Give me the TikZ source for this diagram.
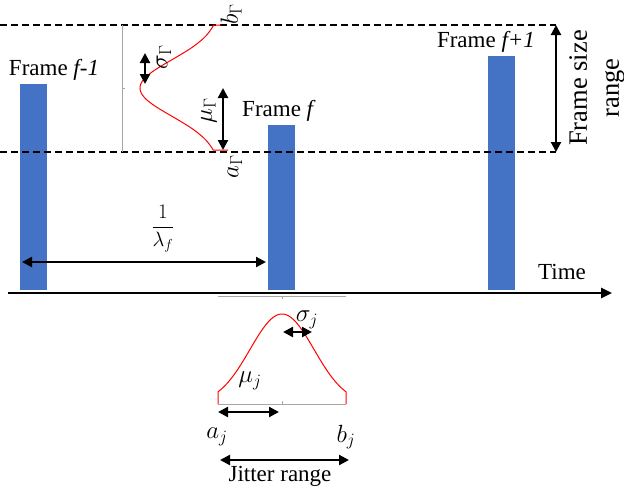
\documentclass[tikz,border=0pt]{standalone}
\usepackage{fontspec}
\setmainfont{Liberation Serif}
\usetikzlibrary{arrows.meta,positioning}
\definecolor{barblue}{HTML}{4472C4}
\definecolor{guidegray}{HTML}{A6A6A6}

\begin{document}
\begin{tikzpicture}[
  x=1pt, y=-1pt,
  font=\fontsize{23}{28}\selectfont,
  every node/.style={align=center, inner sep=0pt},
  %% ─── styles ──────────────────────────────────────────────────────
  framebar/.style={fill=barblue, draw=none, minimum width=27pt, anchor=south, inner sep=0pt},
  lbl/.style={font=\fontsize{23}{28}\selectfont, anchor=base},
  mlbl/.style={font=\fontsize{24}{28}\selectfont},
  dbl/.style={{Triangle[length=10pt,width=10pt]}-{Triangle[length=10pt,width=10pt]}, line width=2.2pt},
  limit/.style={dash pattern=on 7pt off 4pt, line width=2pt},
  timeaxis/.style={-{Triangle[length=11pt,width=10pt]}, line width=2.5pt},
  guide/.style={draw=guidegray, line width=0.8pt},
  pdf/.style={draw=red, line width=1pt}
]
  \useasboundingbox (0,0) rectangle (624,488);

  %% ─── 1. frames on the time axis ──────────────────────────────────
  \node[framebar, minimum height=206pt] (fprev) at (33.5,290) {};
  \node[framebar, minimum height=165pt] (fcur)  at (281.5,290) {};
  \node[framebar, minimum height=234pt] (fnext) at (501,290) {};

  \node[lbl] (lprev) at (54,75)  {Frame \textit{f-1}};
  \node[lbl] (lcur)  at (279,116) {Frame \textit{f}};
  \node[lbl] (lnext) at (486,47) {Frame \textit{f+1}};

  \coordinate (t0) at (8,293);
  \coordinate (t1) at (612,293);
  \draw[timeaxis] (t0) -- (t1);
  \node[lbl] (time) at (562,279) {Time};

  %% ─── 2. frame size range ─────────────────────────────────────────
  \coordinate (bL) at (0,25);
  \coordinate (bR) at (556,25);
  \coordinate (aL) at (0,152);
  \coordinate (aR) at (556,152);
  \draw[limit] (bL) -- (bR);
  \draw[limit] (aL) -- (aR);
  \draw[dbl] (bR) -- (aR);
  \node[rotate=90, font=\fontsize{26.5}{32}\selectfont] (fsr) at (597,88) {Frame size\\range};

  % frame size distribution
  \draw[guide] (122,25) -- (122,152) (122,88) -- (125,88);
  \draw[pdf] (221,25) -- plot[domain=25:150, samples=90, variable=\t]
    ({220-80*exp(-((\t-88)/28)*((\t-88)/28)/2)}, \t) -- (228,150);

  \coordinate (sgT) at (145,53);
  \coordinate (sgB) at (145,84);
  \draw[dbl] (sgT) -- (sgB);
  \coordinate (muT) at (223,88);
  \coordinate (muB) at (223,150);
  \draw[dbl] (muT) -- (muB);

  \node[mlbl, rotate=90] (sgG) at (164,57)  {$\sigma_\Gamma$};
  \node[mlbl, rotate=90] (muG) at (209,111) {$\mu_\Gamma$};
  \node[mlbl, rotate=90] (bG)  at (231,14)  {$b_\Gamma$};
  \node[mlbl, rotate=90] (aG)  at (235,167) {$a_\Gamma$};

  %% ─── 3. inter-frame time ─────────────────────────────────────────
  \coordinate (lamL) at (22,262);
  \coordinate (lamR) at (266,262);
  \draw[dbl] (lamL) -- (lamR);
  \node[font=\fontsize{21}{25}\selectfont] (rate) at (163,229) {$\displaystyle\frac{1}{\lambda_f}$};

  %% ─── 4. jitter distribution ──────────────────────────────────────
  \draw[guide] (218,296) -- (346,296) (282,296) -- (282,299);
  \draw[guide] (218,404) -- (346,404) (282,404) -- (282,401);
  \draw[pdf] (218,404) -- plot[domain=218:346, samples=90]
    (\x, {404-90*exp(-((\x-282)/32)*((\x-282)/32)/2)}) -- (346,404);

  \coordinate (sjL) at (283,332);
  \coordinate (sjR) at (312,332);
  \draw[dbl] (sjL) -- (sjR);
  \coordinate (mjL) at (218,412);
  \coordinate (mjR) at (279,412);
  \draw[dbl] (mjL) -- (mjR);
  \coordinate (jrL) at (220,460);
  \coordinate (jrR) at (349,460);
  \draw[dbl] (jrL) -- (jrR);

  \node[mlbl] (sgj) at (307,320) {$\sigma_j$};
  \node[mlbl] (muj) at (250,381) {$\mu_j$};
  \node[mlbl] (aj)  at (217,437) {$a_j$};
  \node[mlbl] (bj)  at (346,437) {$b_j$};
  \node[lbl] (jit) at (280,481) {Jitter range};

\end{tikzpicture}
\end{document}
